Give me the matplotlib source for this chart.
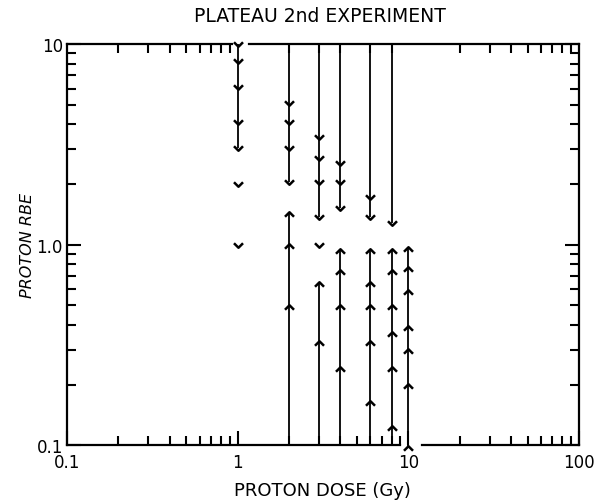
"""
Plateau proton RBE, 2nd experiment: RBE limits vs proton dose.
Down arrows = upper limits, up arrows = lower limits, bare chevrons = points.
"""

import matplotlib
matplotlib.use("Agg")
import matplotlib.pyplot as plt
from matplotlib.path import Path

# ── data ──────────────────────────────────────────────────────────────────────

doses = [1, 2, 3, 4, 6, 8, 10]

# upper-limit arrows (pointing down), line runs from the top of the plot
down_vals = {
    1: [10.0, 8.2, 6.1, 4.1, 3.05],
    2: [5.1, 4.1, 3.05, 2.05],
    3: [3.45, 2.7, 2.05, 1.37],
    4: [2.55, 2.05, 1.52],
    6: [1.72, 1.37],
    8: [1.28],
    10: [],
}

# lower-limit arrows (pointing up), line runs down to the bottom of the plot
up_vals = {
    1: [],
    2: [1.42, 0.98, 0.49],
    3: [0.635, 0.325],
    4: [0.93, 0.73, 0.49, 0.24],
    6: [0.93, 0.635, 0.49, 0.325, 0.163],
    8: [0.93, 0.73, 0.49, 0.358, 0.24, 0.122],
    10: [0.95, 0.755, 0.578, 0.386, 0.295, 0.198, 0.097],
}

# bare chevrons, no line
point_vals = {
    1: [2.0, 1.0],
    3: [1.0],
}

x_ticks = [0.1, 1, 10, 100]
x_ticklabels = ["0.1", "1", "10", "100"]
y_ticks = [0.1, 1, 10]
y_ticklabels = ["0.1", "1.0", "10"]

# ── styling ───────────────────────────────────────────────────────────────────

plt.rcParams["font.family"] = ["DejaVu Sans"]
XLIM, YLIM = (0.1, 100), (0.1, 10)
LW_AX, LW_LINE = 1.6, 1.3
MS, MEW = 6.5, 1.8

V_DOWN = Path([(-1, 0.5), (0, -0.5), (1, 0.5)],
              [Path.MOVETO, Path.LINETO, Path.LINETO])
V_UP = Path([(-1, -0.5), (0, 0.5), (1, -0.5)],
            [Path.MOVETO, Path.LINETO, Path.LINETO])

minor_all = [m * 10.0 ** e for e in (-1, 0, 1) for m in range(2, 10)]
minor_top = [m for m in minor_all if m not in (5, 7, 9)]

fig = plt.figure(figsize=(6.03, 5.02), dpi=100)
ax = fig.add_axes([0.111, 0.111, 0.849, 0.799])
ax.set_xscale("log")
ax.set_yscale("log")
ax.set_xlim(*XLIM)
ax.set_ylim(*YLIM)

# ── arrows ────────────────────────────────────────────────────────────────────

for d in doses:
    dv = down_vals[d]
    if dv:
        top = YLIM[1] if d != 1 else max(dv)
        ax.plot([d, d], [top, min(dv)], color="black", lw=LW_LINE,
                solid_capstyle="butt", clip_on=False)
        ax.plot([d] * len(dv), dv, ls="none", marker=V_DOWN, ms=MS,
                mec="black", mfc="none", mew=MEW, clip_on=False)
    uv = up_vals[d]
    if uv:
        ax.plot([d, d], [max(uv), min(min(uv), YLIM[0])], color="black",
                lw=LW_LINE, solid_capstyle="butt", clip_on=False)
        ax.plot([d] * len(uv), uv, ls="none", marker=V_UP, ms=MS,
                mec="black", mfc="none", mew=MEW, clip_on=False)
    pv = point_vals.get(d, [])
    if pv:
        ax.plot([d] * len(pv), pv, ls="none", marker=V_DOWN, ms=MS,
                mec="black", mfc="none", mew=MEW, clip_on=False)

# ── frame: top and bottom lines are broken where the arrows cross ─────────────

for s in ("left", "right"):
    ax.spines[s].set_linewidth(LW_AX)
ax.spines["top"].set_visible(False)
ax.spines["bottom"].set_visible(False)
xt = ax.get_xaxis_transform()
for x0, x1 in [(0.1, 0.93), (1.17, 100)]:
    ax.plot([x0, x1], [1, 1], color="black", lw=LW_AX, transform=xt,
            clip_on=False, solid_capstyle="projecting")
for x0, x1 in [(0.1, 8.9), (12.0, 100)]:
    ax.plot([x0, x1], [0, 0], color="black", lw=LW_AX, transform=xt,
            clip_on=False, solid_capstyle="projecting")

# ── ticks ─────────────────────────────────────────────────────────────────────

ax.set_xticks(x_ticks, x_ticklabels)
ax.set_xticks(minor_all, minor=True)
ax.set_xticklabels([], minor=True)
ax.set_yticks(y_ticks, y_ticklabels)
ax.set_yticks(minor_all[:16], minor=True)
ax.set_yticklabels([], minor=True)
ax.tick_params(which="both", direction="in", width=1.5,
               left=True, right=True, bottom=True, top=False)
ax.tick_params(which="major", length=10, labelsize=12)
ax.tick_params(axis="x", which="major", pad=5.5)
ax.tick_params(axis="y", which="major", pad=3)
ax.tick_params(which="minor", length=6.5)

sec = ax.secondary_xaxis("top")
sec.set_xticks([])
sec.set_xticks(minor_top, minor=True)
sec.set_xticklabels([], minor=True)
sec.spines["top"].set_visible(False)
sec.tick_params(which="minor", direction="in", length=6.5, width=1.5)

ax.set_xlabel("PROTON DOSE (Gy)", fontsize=13, labelpad=7)
ax.set_ylabel("PROTON RBE", fontsize=11.5, style="italic", labelpad=1)
fig.text(0.53, 0.967, "PLATEAU 2nd EXPERIMENT", fontsize=13.5,
         ha="center", va="center")

fig.savefig("out.png", dpi=100)
